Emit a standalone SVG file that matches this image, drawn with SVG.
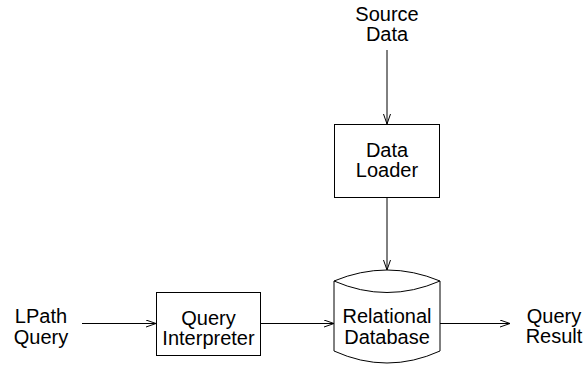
<svg xmlns="http://www.w3.org/2000/svg" width="585" height="367" viewBox="0 0 585 367">
<defs>
<style>
text{font-family:"Liberation Sans",Arial,sans-serif;font-size:20px;fill:#000;text-anchor:middle}
.box{fill:#fff;stroke:#000;stroke-width:1}
.edge{fill:none;stroke:#000;stroke-width:1;marker-end:url(#arr)}
</style>
<marker id="arr" markerUnits="userSpaceOnUse" markerWidth="12" markerHeight="9" refX="10" refY="4" orient="auto">
<path d="M0,0.5 L10,4 L0,7.5" fill="none" stroke="#000" stroke-width="1"/>
</marker>
</defs>
<rect width="585" height="367" fill="#fff"/>
<g id="connectors">
<line class="edge" x1="387" y1="50" x2="387" y2="124"/>
<line class="edge" x1="387" y1="198" x2="387" y2="270"/>
<line class="edge" x1="82" y1="323.5" x2="156" y2="323.5"/>
<line class="edge" x1="261" y1="323.5" x2="334" y2="323.5"/>
<line class="edge" x1="440" y1="323.5" x2="510" y2="323.5"/>
</g>
<g id="source-data">
<text x="387" y="21">Source</text>
<text x="387" y="41">Data</text>
</g>
<g id="data-loader">
<rect class="box" x="334.5" y="124.5" width="105" height="73"/>
<text x="387" y="157">Data</text>
<text x="387" y="177">Loader</text>
</g>
<g id="lpath-query">
<text x="41" y="323">LPath</text>
<text x="41" y="344">Query</text>
</g>
<g id="query-interpreter">
<rect class="box" x="156.5" y="292.5" width="104" height="63"/>
<text x="208.5" y="325">Query</text>
<text x="208.5" y="345">Interpreter</text>
</g>
<g id="relational-database">
<path class="box" d="M334,281 Q387,259 440,281 L440,351 Q387,375 334,351 Z"/>
<path d="M334,281 Q387,304 440,281" fill="none" stroke="#000" stroke-width="1"/>
<text x="387" y="323">Relational</text>
<text x="387" y="344">Database</text>
</g>
<g id="query-result">
<text x="554" y="323">Query</text>
<text x="554" y="343">Result</text>
</g>
</svg>
